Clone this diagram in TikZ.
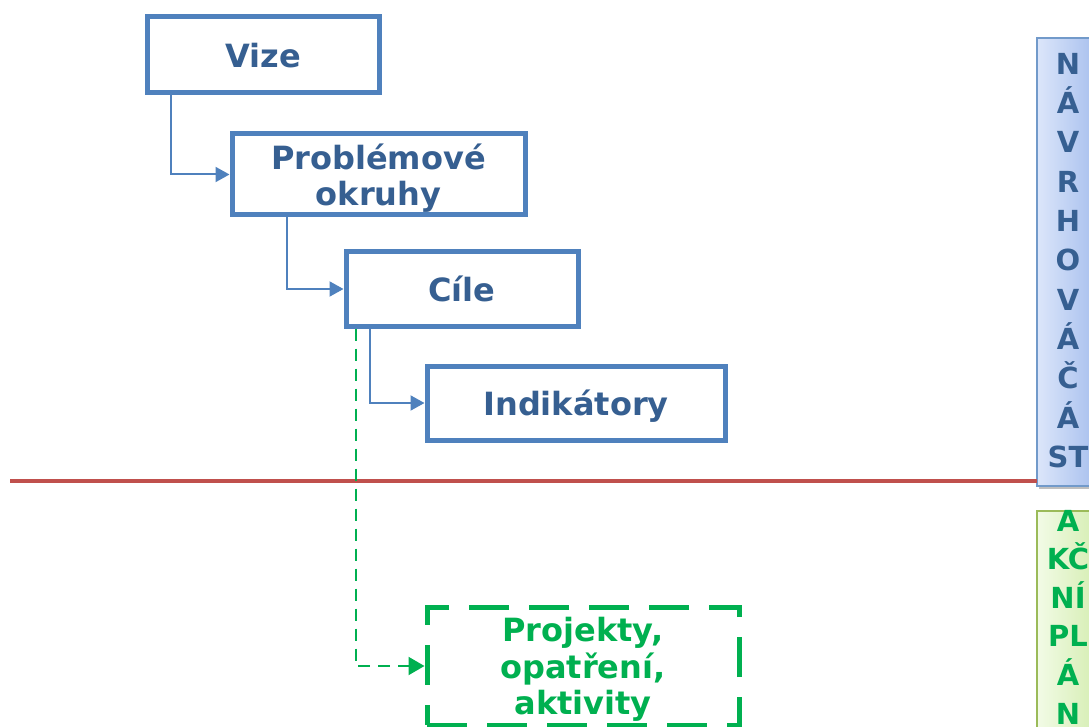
\documentclass[tikz,border=0pt]{standalone}
\usepackage{fontspec}
\setmainfont{DejaVu Sans}
\usetikzlibrary{arrows.meta,positioning}
\definecolor{boxblue}{HTML}{4F81BD}
\definecolor{txtblue}{HTML}{365F91}
\definecolor{grn}{HTML}{00B050}
\definecolor{redl}{HTML}{C0504D}
\definecolor{olive}{HTML}{9BBB59}
\definecolor{bluel}{HTML}{DCE6FA}
\definecolor{bluer}{HTML}{A8C0EE}
\definecolor{greenl}{HTML}{F2FBE6}
\definecolor{greenr}{HTML}{D6EEB4}
\tikzset{
  bluebox/.style={draw=boxblue, line width=5pt, fill=white, text=txtblue, font=\fontsize{32}{36}\selectfont\bfseries, align=center, inner sep=0pt, text depth=0pt},
  greenbox/.style={draw=grn, line width=5pt, dash pattern=on 40pt off 20pt, text=grn, font=\fontsize{32}{36.5}\selectfont\bfseries, align=center, inner sep=0pt, text depth=0pt},
  conn/.style={draw=boxblue, line width=2pt, -{Triangle[length=14pt,width=15pt]}},
  dconn/.style={draw=grn, line width=2pt, dash pattern=on 12pt off 8pt, -{Triangle[length=16pt,width=18pt]}},
}
\begin{document}
\begin{tikzpicture}[x=1pt,y=-1pt]
\useasboundingbox (0,0) rectangle (1089,727);
\begin{scope}
\clip (0,0) rectangle (1089,727);
% side panels
\fill[gray!50] (1039,41) rectangle (1095,489);
\shade[left color=bluel, right color=bluer] (1037,38) rectangle (1095,486);
\draw[boxblue!80, line width=1.5pt] (1037,38) rectangle (1095,486);
\node[text=txtblue, font=\fontsize{29}{39.3}\selectfont\bfseries, align=center, inner sep=0pt] (navrh) at (1068,260.5) {N\\Á\\V\\R\\H\\O\\V\\Á\\Č\\Á\\ST};
\shade[left color=greenl, right color=greenr] (1037,511) rectangle (1095,740);
\draw[olive, line width=1.5pt] (1037,511) rectangle (1095,740);
\node[text=grn, font=\fontsize{29}{38.6}\selectfont\bfseries, align=center, inner sep=0pt] (akcni) at (1068,617) {A\\KČ\\NÍ\\PL\\Á\\N};
% red separator
\coordinate (rl) at (10,481);
\coordinate (rr) at (1037,481);
\draw[redl, line width=3.5pt] (rl) -- (rr);
% boxes
\node[bluebox, minimum width=232pt, minimum height=76pt] (vize) at (263,55) {Vize};
\node[bluebox, minimum width=293pt, minimum height=81pt] (probl) at (378.5,174.5) {Problémové\\okruhy};
\node[bluebox, minimum width=232pt, minimum height=74pt] (cile) at (462,289) {Cíle};
\node[bluebox, minimum width=298pt, minimum height=74pt] (indik) at (576,403) {Indikátory};
\node[greenbox, minimum width=312pt, minimum height=118pt] (proj) at (583,666) {Projekty,\\opatření,\\aktivity};
% connectors
\draw[conn] (vize.south west) ++(26,0) |- (probl.west);
\draw[conn] (probl.south west) ++(57,0) |- (cile.west);
\draw[conn] (cile.south west) ++(26,0) |- (indik.west);
\draw[dconn] (cile.south west) ++(12,0) |- (proj.west);
\end{scope}
\end{tikzpicture}
\end{document}
